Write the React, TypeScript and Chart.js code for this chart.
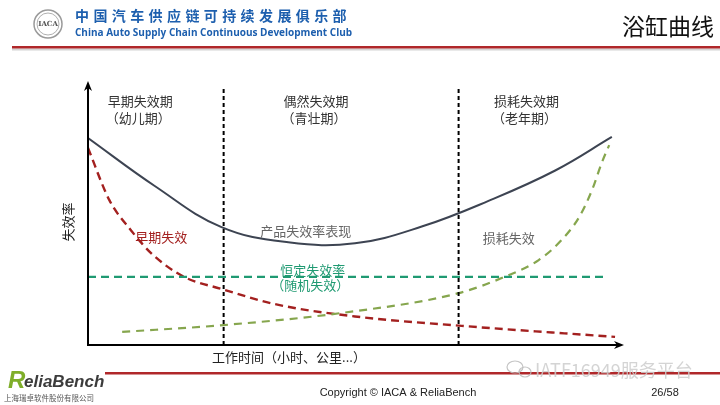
import React, { useEffect, useRef } from "react";
import { Chart, registerables } from "chart.js";

Chart.register(...registerables);

// ---- Data (x: working time 0..100, y: failure rate 0..100) ----
const productX = [0, 12.5, 25, 37.5, 50, 62.5, 75, 87.5, 98.1];
const productY = [79, 60.7, 45, 39.2, 38.8, 45.2, 55, 66.6, 79.4];

const earlyX = [0, 4, 8, 12, 18, 25, 35, 50, 70, 98.7];
const earlyY = [75.2, 55.3, 43.9, 34.7, 26, 21.4, 15.6, 10.9, 7.3, 3.1];

const wearX = [6.4, 25.4, 47.4, 69.4, 78, 84.4, 88.7, 92, 94.4, 96.2, 97.6];
const wearY = [5, 7.6, 12.2, 19.8, 26, 32.4, 40.1, 48.9, 59.2, 69.5, 76.3];

const constantX = [0, 96.8];
const constantY = [26, 26];

const phaseBoundaries = [25.4, 69.4];
const phaseTop = 98;

const phaseNames = ["早期失效期", "偶然失效期", "损耗失效期"];
const phaseSubs = ["（幼儿期）", "（青壮期）", "（老年期）"];
const phaseCenters = [9.8, 42.7, 82.1];

const toPts = (xs: number[], ys: number[]) => xs.map((x, i) => ({ x, y: ys[i] }));

export default function App() {
  const ref = useRef<HTMLCanvasElement | null>(null);

  useEffect(() => {
    document.body.style.margin = "0";
    const canvas = ref.current!;
    const cjk = '"Noto Sans CJK SC", "Noto Sans", sans-serif';

    const overlay = {
      id: "overlay",
      beforeDraw(chart: any) {
        const c = chart.ctx as CanvasRenderingContext2D;
        c.save();
        c.fillStyle = "#ffffff";
        c.fillRect(0, 0, chart.width, chart.height);

        // header logo
        c.strokeStyle = "#9a9a9a";
        c.lineWidth = 1.5;
        c.beginPath();
        c.arc(48, 24, 14, 0, Math.PI * 2);
        c.stroke();
        c.lineWidth = 0.8;
        c.beginPath();
        c.arc(48, 24, 11, 0, Math.PI * 2);
        c.stroke();
        c.fillStyle = "#555";
        c.font = `bold 7px "DejaVu Serif", serif`;
        c.textAlign = "center";
        c.textBaseline = "middle";
        c.fillText("IACA", 48, 24);

        // header text
        c.fillStyle = "#1d5fae";
        c.textAlign = "left";
        c.font = `bold 14px ${cjk}`;
        const title = "中国汽车供应链可持续发展俱乐部";
        for (let i = 0; i < title.length; i++) {
          c.fillText(title[i], 75 + i * 18.4, 16);
        }
        c.font = `bold 10px "Open Sans", "DejaVu Sans", sans-serif`;
        c.fillText("China Auto Supply Chain Continuous Development Club", 75, 33);

        // slide title
        c.fillStyle = "#111";
        c.textAlign = "right";
        c.font = `23px ${cjk}`;
        c.fillText("浴缸曲线", 714, 26);

        // header red line
        c.fillStyle = "#d4d4d4";
        c.fillRect(12, 48.5, 708, 2);
        c.fillStyle = "#b0282a";
        c.fillRect(12, 46, 708, 2.5);

        // footer line
        c.fillStyle = "#b0282a";
        c.fillRect(105, 372, 615, 2.5);

        // watermark
        c.fillStyle = "rgba(205,205,205,0.85)";
        c.textAlign = "left";
        c.font = `18px ${cjk}`;
        c.fillText("IATF16949服务平台", 535, 370);
        c.strokeStyle = "rgba(190,190,190,0.9)";
        c.lineWidth = 1.2;
        c.beginPath();
        c.ellipse(515, 367, 8, 6, 0, 0, Math.PI * 2);
        c.stroke();
        c.beginPath();
        c.ellipse(525, 372, 6, 5, 0, 0, Math.PI * 2);
        c.stroke();

        // footer logo
        c.fillStyle = "#7fae2a";
        c.font = `italic bold 24px "Liberation Sans", "DejaVu Sans", sans-serif`;
        c.textAlign = "left";
        c.fillText("R", 8, 381);
        c.fillStyle = "#3c3c3c";
        c.font = `italic bold 17px "Liberation Sans", "DejaVu Sans", sans-serif`;
        c.fillText("eliaBench", 24, 382);
        c.fillStyle = "#555";
        c.font = `7.5px ${cjk}`;
        c.fillText("上海瑞卓软件股份有限公司", 4, 398);

        // footer texts
        c.fillStyle = "#222";
        c.font = `11px "Liberation Sans", "DejaVu Sans", sans-serif`;
        c.textAlign = "center";
        c.fillText("Copyright © IACA & ReliaBench", 398, 393);
        c.fillText("26/58", 665, 393);
        c.restore();
      },
      afterDraw(chart: any) {
        const c = chart.ctx as CanvasRenderingContext2D;
        const xs = chart.scales.x;
        const ys = chart.scales.y;
        const a = chart.chartArea;
        c.save();
        // axes
        c.strokeStyle = "#000";
        c.fillStyle = "#000";
        c.lineWidth = 2;
        c.beginPath();
        c.moveTo(a.left, a.top + 4);
        c.lineTo(a.left, a.bottom);
        c.lineTo(a.right - 4, a.bottom);
        c.stroke();
        c.beginPath();
        c.moveTo(a.left, a.top - 2);
        c.lineTo(a.left - 4, a.top + 8);
        c.lineTo(a.left, a.top + 5);
        c.lineTo(a.left + 4, a.top + 8);
        c.closePath();
        c.fill();
        c.beginPath();
        c.moveTo(a.right + 2, a.bottom);
        c.lineTo(a.right - 8, a.bottom - 4);
        c.lineTo(a.right - 5, a.bottom);
        c.lineTo(a.right - 8, a.bottom + 4);
        c.closePath();
        c.fill();

        c.textAlign = "center";
        c.textBaseline = "middle";
        c.font = `13px ${cjk}`;
        c.fillStyle = "#333";
        phaseNames.forEach((n, i) => {
          const px = xs.getPixelForValue(phaseCenters[i]);
          c.fillText(n, px, 101);
          c.fillText(phaseSubs[i], px - 2, 118);
        });

        c.fillStyle = "#666";
        c.fillText("产品失效率表现", xs.getPixelForValue(40.8), ys.getPixelForValue(43.5));
        c.fillText("损耗失效", xs.getPixelForValue(78.8), ys.getPixelForValue(40.8));
        c.fillStyle = "#a3201f";
        c.fillText("早期失效", xs.getPixelForValue(13.7), ys.getPixelForValue(41.2));
        c.fillStyle = "#1f9a72";
        c.fillText("恒定失效率", xs.getPixelForValue(42.1), ys.getPixelForValue(28.6));
        c.fillText("（随机失效）", xs.getPixelForValue(41.6), ys.getPixelForValue(22.9));

        c.fillStyle = "#222";
        c.fillText("工作时间（小时、公里...）", 289, 357);

        c.translate(68, 222);
        c.rotate(-Math.PI / 2);
        c.fillText("失效率", 0, 0);
        c.restore();
      },
    };

    const chart = new Chart(canvas, {
      type: "line",
      data: {
        datasets: [
          {
            data: [
              { x: phaseBoundaries[0], y: 0 },
              { x: phaseBoundaries[0], y: phaseTop },
            ],
            borderColor: "#000",
            borderWidth: 2,
            borderDash: [4, 3],
            pointRadius: 0,
            tension: 0,
          },
          {
            data: [
              { x: phaseBoundaries[1], y: 0 },
              { x: phaseBoundaries[1], y: phaseTop },
            ],
            borderColor: "#000",
            borderWidth: 2,
            borderDash: [4, 3],
            pointRadius: 0,
            tension: 0,
          },
          {
            data: toPts(constantX, constantY),
            borderColor: "#1f9a72",
            borderWidth: 2.2,
            borderDash: [8, 5],
            pointRadius: 0,
            tension: 0,
          },
          {
            data: toPts(wearX, wearY),
            borderColor: "#86a64e",
            borderWidth: 2.2,
            borderDash: [8, 6],
            pointRadius: 0,
            cubicInterpolationMode: "monotone",
          },
          {
            data: toPts(earlyX, earlyY),
            borderColor: "#a3201f",
            borderWidth: 2.4,
            borderDash: [8, 5],
            pointRadius: 0,
            cubicInterpolationMode: "monotone",
          },
          {
            data: toPts(productX, productY),
            borderColor: "#3d4452",
            borderWidth: 2,
            pointRadius: 0,
            tension: 0.4,
          },
        ],
      },
      options: {
        responsive: false,
        animation: false,
        events: [],
        layout: { padding: { left: 88, right: 98, top: 83, bottom: 60 } },
        scales: {
          x: { type: "linear", min: 0, max: 100, display: false },
          y: { type: "linear", min: 0, max: 100, display: false },
        },
        plugins: { legend: { display: false }, tooltip: { enabled: false } },
      },
      plugins: [overlay],
    } as any);

    return () => chart.destroy();
  }, []);

  return (
    <div style={{ position: "absolute", left: 0, top: 0, width: 720, height: 405 }}>
      <canvas ref={ref} width={720} height={405} />
    </div>
  );
}
